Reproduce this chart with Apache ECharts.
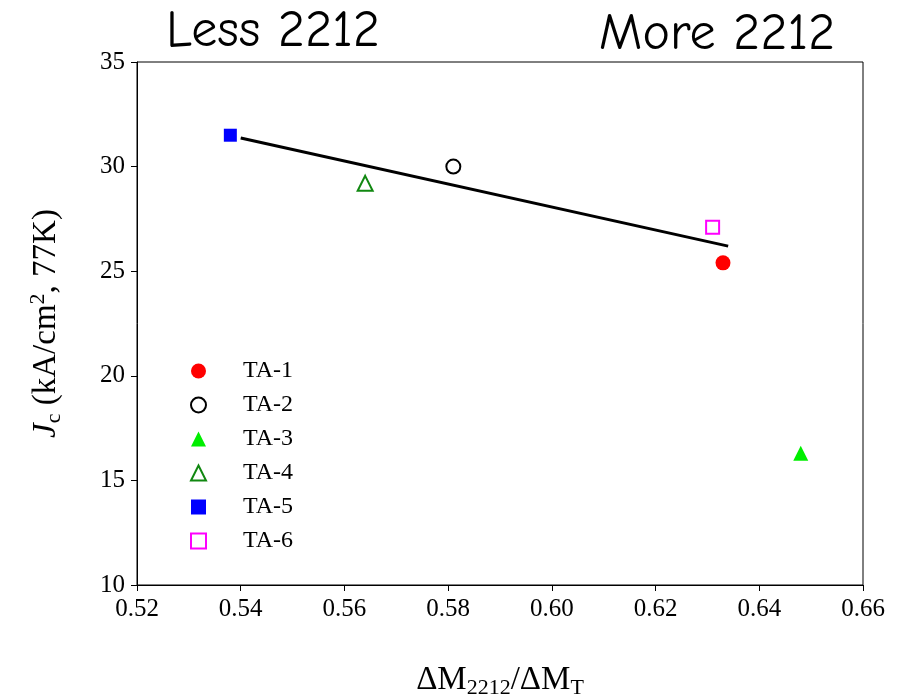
<!DOCTYPE html>
<html>
<head>
<meta charset="utf-8">
<script src="https://cdn.jsdelivr.net/npm/echarts@6/dist/echarts.min.js"></script>
<style>
  html, body { margin: 0; padding: 0; background: #fff; }
  #chart { width: 902px; height: 700px; }
</style>
</head>
<body>
<div id="chart"></div>
<script>
// Sample names and their (ΔM2212/ΔMT, Jc) measurements
const sampleNames = ['TA-1', 'TA-2', 'TA-3', 'TA-4', 'TA-5', 'TA-6'];
const ratioValues = [0.633, 0.581, 0.648, 0.564, 0.538, 0.631];
const jcValues    = [25.4, 30.0, 16.3, 29.2, 31.5, 27.1];

// Linear fit drawn across the main group of samples
const fitX = [0.540, 0.634];
const fitY = [31.37, 26.2];

// Marker look for each sample
const markerStyles = [
  { symbol: 'circle',        color: '#ff0000', size: 15 },
  { symbol: 'emptyCircle',   color: '#000000', size: 14 },
  { symbol: 'triangle',      color: '#00ee00', size: 15 },
  { symbol: 'emptyTriangle', color: '#118811', size: 15 },
  { symbol: 'rect',          color: '#0000ff', size: 13 },
  { symbol: 'emptyRect',     color: '#ff00ff', size: 13 }
];

const serif = '"Liberation Serif", "Times New Roman", serif';
const comic = '"Comic Sans MS", "Comic Neue", "DejaVu Sans", sans-serif';

const scatterSeries = sampleNames.map((name, i) => ({
  name: name,
  type: 'scatter',
  symbol: markerStyles[i].symbol,
  symbolSize: markerStyles[i].size,
  itemStyle: { color: markerStyles[i].color, borderWidth: 1.5, opacity: 1 },
  data: [[ratioValues[i], jcValues[i]]],
  z: 5
}));

const fitSeries = {
  name: 'fit',
  type: 'line',
  showSymbol: false,
  symbol: 'none',
  lineStyle: { color: '#000', width: 3 },
  data: fitX.map((x, i) => [x, fitY[i]]),
  silent: true,
  z: 4
};

const chart = echarts.init(document.getElementById('chart'));
chart.setOption({
  animation: false,
  backgroundColor: '#fff',
  title: [
    { text: 'Less 2212', left: 268, top: 0, textAlign: 'center',
      textStyle: { fontFamily: comic, fontSize: 52, fontWeight: 'normal', color: '#000' } },
    { text: 'More 2212', left: 712, top: 3, textAlign: 'center',
      textStyle: { fontFamily: comic, fontSize: 52, fontWeight: 'normal', color: '#000' } }
  ],
  grid: {
    left: 137, right: 39, top: 62, bottom: 115,
    outerBoundsMode: 'none',
    containLabel: false,
    show: true, borderColor: '#000', borderWidth: 1, backgroundColor: 'transparent'
  },
  legend: {
    data: sampleNames,
    orient: 'vertical',
    left: 185, top: 354,
    itemWidth: 15, itemHeight: 15,
    itemGap: 10,
    textStyle: { fontFamily: serif, fontSize: 24, color: '#000', padding: [0, 0, 0, 32] }
  },
  xAxis: {
    type: 'value',
    min: 0.52, max: 0.66, interval: 0.02,
    axisLine: { show: true, lineStyle: { color: '#000', width: 1 } },
    axisTick: { show: true, inside: false, length: 6, lineStyle: { color: '#000' } },
    splitLine: { show: false },
    axisLabel: { fontFamily: serif, fontSize: 25, color: '#000', margin: 12,
      formatter: v => v.toFixed(2) },
    name: '{n|ΔM}{sub|2212}{n|/ΔM}{sub|T}',
    nameLocation: 'middle',
    nameGap: 76,
    nameTextStyle: {
      rich: {
        n: { fontFamily: serif, fontSize: 33, color: '#000', lineHeight: 38 },
        sub: { fontFamily: serif, fontSize: 22, color: '#000', verticalAlign: 'bottom', lineHeight: 38, padding: [18, 0, 0, 0] }
      }
    }
  },
  yAxis: {
    type: 'value',
    min: 10, max: 35, interval: 5,
    axisLine: { show: true, lineStyle: { color: '#000', width: 1 } },
    axisTick: { show: true, inside: false, length: 6, lineStyle: { color: '#000' } },
    splitLine: { show: false },
    axisLabel: { fontFamily: serif, fontSize: 25, color: '#000', margin: 12 },
    name: '{i|J}{sub|c}{n| (kA/cm}{sup|2}{n|, 77K)}',
    nameLocation: 'middle',
    nameRotate: 90,
    nameGap: 72,
    nameTextStyle: {
      rich: {
        i: { fontFamily: serif, fontSize: 33, fontStyle: 'italic', color: '#000', lineHeight: 38 },
        n: { fontFamily: serif, fontSize: 33, color: '#000', lineHeight: 38 },
        sub: { fontFamily: serif, fontSize: 22, color: '#000', verticalAlign: 'bottom', lineHeight: 38, padding: [18, 0, 0, 0] },
        sup: { fontFamily: serif, fontSize: 22, color: '#000', verticalAlign: 'top', lineHeight: 38, padding: [0, 0, 16, 0] }
      }
    }
  },
  series: [fitSeries].concat(scatterSeries)
});
</script>
</body>
</html>
